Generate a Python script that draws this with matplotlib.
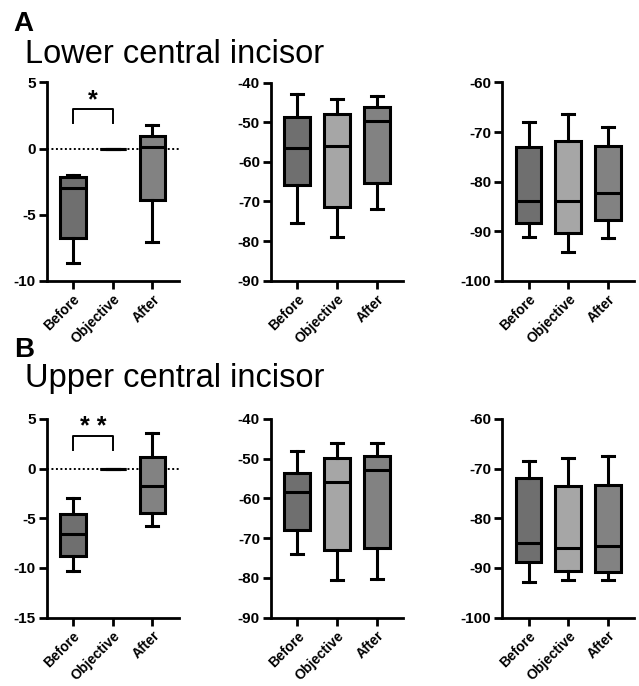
import matplotlib
matplotlib.use("Agg")
import matplotlib.pyplot as plt

plt.rcParams['font.family'] = ['Liberation Sans', 'DejaVu Sans']
plt.rcParams['axes.unicode_minus'] = False

categories = ["Before", "Objective", "After"]

# five-number summaries per category: [whisker low, q1, median, q3, whisker high]
lower_p1 = [[-8.64, -6.74, -2.95, -2.12, -2.0],
            [0.0, 0.0, 0.0, 0.0, 0.0],
            [-7.1, -3.89, 0.1, 0.96, 1.79]]
lower_p2 = [[-75.5, -65.9, -56.6, -48.8, -43.0],
            [-79.0, -71.3, -55.9, -47.9, -44.1],
            [-71.8, -65.4, -49.7, -46.3, -43.4]]
lower_p3 = [[-91.2, -88.4, -83.9, -73.1, -67.9],
            [-94.2, -90.3, -83.9, -71.8, -66.4],
            [-91.3, -87.8, -82.2, -72.8, -69.0]]
upper_p1 = [[-10.27, -8.76, -6.61, -4.53, -2.92],
            [0.0, 0.0, 0.0, 0.0, 0.0],
            [-5.77, -4.50, -1.71, 1.14, 3.56]]
upper_p2 = [[-74.1, -68.0, -58.5, -53.6, -48.1],
            [-80.5, -73.1, -55.8, -49.7, -46.0],
            [-80.4, -72.5, -52.9, -49.2, -46.0]]
upper_p3 = [[-92.9, -88.9, -85.0, -71.9, -68.4],
            [-92.5, -90.6, -85.9, -73.6, -67.9],
            [-92.5, -90.9, -85.5, -73.2, -67.5]]

ylims = [(-10, 5), (-90, -40), (-100, -60), (-15, 5), (-90, -40), (-100, -60)]
ysteps = [5, 10, 10, 5, 10, 10]

# significance brackets: (panel index, y low, y high, label)
sig_brackets = [(0, 1.92, 2.98, "*"), (3, 1.88, 3.32, "* *")]

box_colors = ["#6f6f6f", "#a6a6a6", "#828282"]

W, H = 639, 686
fig = plt.figure(figsize=(W / 100, H / 100), dpi=100)

lefts = [46.7, 271.0, 502.3]
aw = 132.0
rows = [(82.5, 280.7), (419.0, 617.5)]

panels = [lower_p1, lower_p2, lower_p3, upper_p1, upper_p2, upper_p3]
axes = []
for i, data in enumerate(panels):
    r, c = divmod(i, 3)
    top, bot = rows[r]
    ax = fig.add_axes([lefts[c] / W, 1 - bot / H, aw / W, (bot - top) / H])
    axes.append(ax)
    stats = []
    for cat, v in zip(categories, data):
        stats.append(dict(label=cat, whislo=v[0], q1=v[1], med=v[2], q3=v[3], whishi=v[4], fliers=[]))
    lw = 2.2
    bp = ax.bxp(stats, positions=range(len(categories)), widths=0.65, capwidths=0.3,
                patch_artist=True, showfliers=False,
                boxprops=dict(linewidth=lw, edgecolor="black"),
                medianprops=dict(linewidth=lw, color="black"),
                whiskerprops=dict(linewidth=lw, color="black"),
                capprops=dict(linewidth=lw, color="black"))
    for patch, col in zip(bp["boxes"], box_colors):
        patch.set_facecolor(col)
    lo, hi = ylims[i]
    ax.set_ylim(lo, hi)
    ax.set_xlim(-0.66, 2.66)
    ax.set_yticks(range(lo, hi + 1, ysteps[i]))
    ax.set_xticks(range(len(categories)))
    ax.set_xticklabels(categories, rotation=45, ha="right", rotation_mode="anchor",
                       fontweight="bold", fontsize=10)
    for lab in ax.get_yticklabels():
        lab.set_fontweight("bold")
        lab.set_fontsize(11)
    ax.tick_params(axis="both", width=2, length=6, pad=2)
    ax.spines["top"].set_visible(False)
    ax.spines["right"].set_visible(False)
    ax.spines["left"].set_linewidth(2)
    ax.spines["bottom"].set_linewidth(2)
    ax.patch.set_alpha(0)
    if c == 0:
        ax.axhline(0, color="black", linewidth=1.4, linestyle=(0, (1, 1.3)), zorder=0)

for idx, ylo, yhi, lab in sig_brackets:
    ax = axes[idx]
    ax.plot([0, 0, 1, 1], [ylo, yhi, yhi, ylo], color="black", linewidth=1.4, clip_on=False)
    ax.annotate(lab, xy=(0.5, yhi), xytext=(0, 1), textcoords="offset points",
                ha="center", va="baseline", fontsize=18, fontweight="bold")

fig.text(13 / W, 1 - 30.7 / H, "A", fontsize=20, fontweight="bold", ha="left", va="baseline")
fig.text(25 / W, 1 - 63.3 / H, "Lower central incisor", fontsize=23.5, ha="left", va="baseline")
fig.text(14 / W, 1 - 357.3 / H, "B", fontsize=20, fontweight="bold", ha="left", va="baseline")
fig.text(25 / W, 1 - 387.3 / H, "Upper central incisor", fontsize=23.5, ha="left", va="baseline")

fig.savefig("out.png", dpi=100)
